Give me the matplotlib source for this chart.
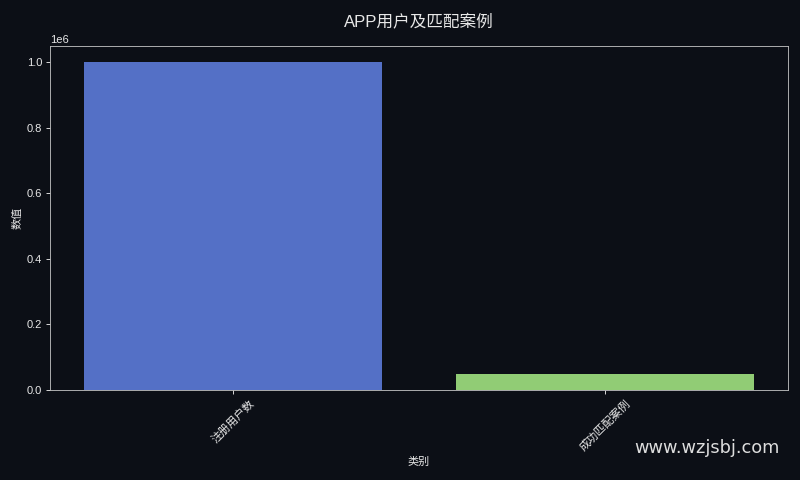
import matplotlib
matplotlib.use("Agg")
import matplotlib.pyplot as plt

categories = ["注册用户数", "成功匹配案例"]
values = [1000000, 50000]
bar_colors = ["#5470c6", "#91cc75"]

plt.rcParams['font.family'] = ['Liberation Sans', 'Noto Sans CJK SC', 'DejaVu Sans']
bg = "#0c0f16"
fg = "#e8e8e8"

fig = plt.figure(figsize=(10, 6), dpi=80, facecolor=bg)
ax = fig.add_axes([50/800, 1-390/480, 738/800, 344/480])
ax.set_facecolor(bg)
x = range(len(categories))
ax.bar(x, values, width=0.8, color=bar_colors, edgecolor="none")
ax.set_xlim(-0.49, 1.49)
ax.set_ylim(0, 1.05e6)
ax.set_xticks(list(x))
ax.set_xticklabels(categories, rotation=45, color=fg, fontsize=10)
ax.tick_params(axis='y', colors=fg, labelsize=10)
ax.tick_params(axis='x', colors=fg)
for s in ax.spines.values():
    s.set_color("#bbbbbb")
ax.yaxis.get_offset_text().set_color(fg)
ax.yaxis.get_offset_text().set_fontsize(10)
ax.set_xlabel("类别", color=fg, fontsize=10, labelpad=4)
ax.set_ylabel("数值", color=fg, fontsize=10)
ax.set_title("APP用户及匹配案例", color=fg, fontsize=15, pad=17)
fig.text(780/800, 1-448/480, "www.wzjsbj.com", color="#dddddd", fontsize=16,
         ha="right", va="center", family=["DejaVu Sans"])
fig.savefig("out.png", dpi=80, facecolor=bg)
